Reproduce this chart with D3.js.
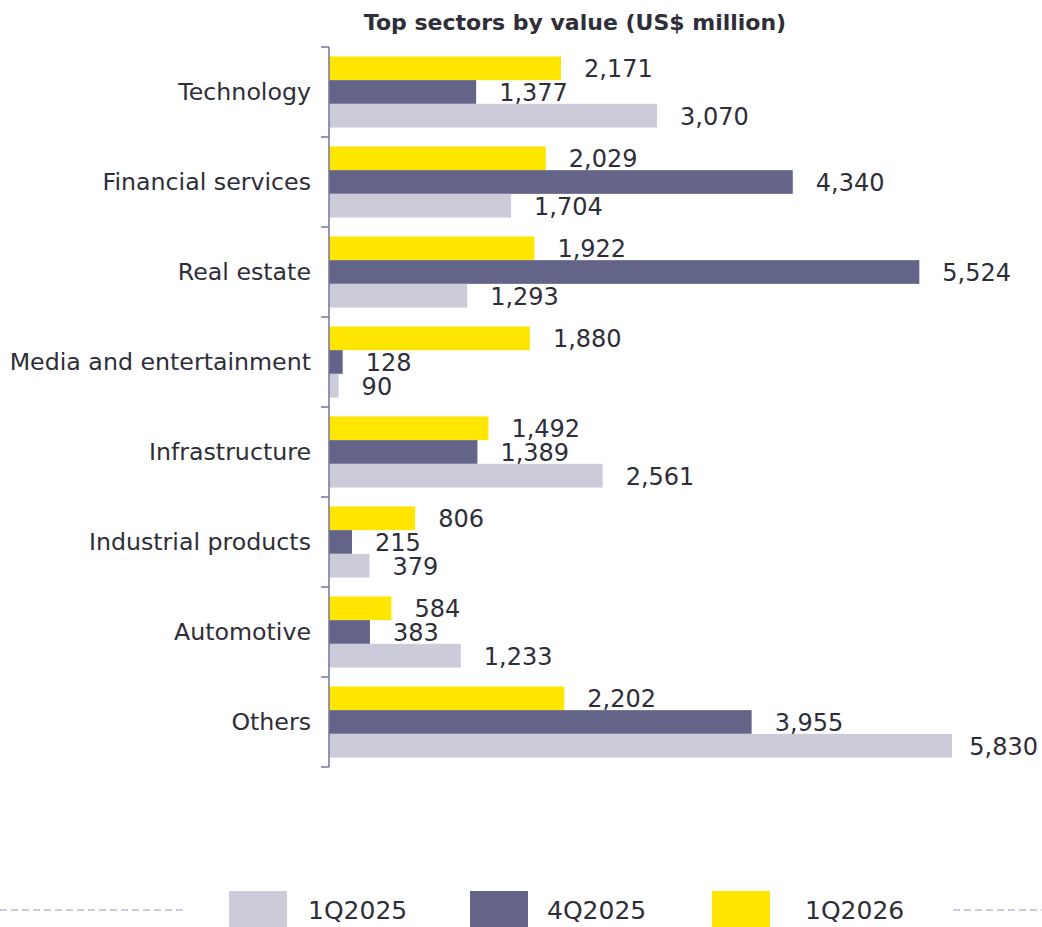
<!DOCTYPE html>
<html>
<head>
<meta charset="utf-8">
<script src="https://cdn.jsdelivr.net/npm/d3@7"></script>
<style>
  html, body { margin: 0; padding: 0; background: #fff; }
  svg { display: block; }
  text { font-family: "DejaVu Sans", "Noto Sans", sans-serif; fill: #2e2e38; }
</style>
</head>
<body>
<svg id="chart" width="1042" height="927"></svg>
<script>
// Sector deal values, US$ million
const sectors = ["Technology", "Financial services", "Real estate", "Media and entertainment",
                 "Infrastructure", "Industrial products", "Automotive", "Others"];
const q1_2025 = [3070, 1704, 1293, 90, 2561, 379, 1233, 5830];
const q4_2025 = [1377, 4340, 5524, 128, 1389, 215, 383, 3955];
const q1_2026 = [2171, 2029, 1922, 1880, 1492, 806, 584, 2202];
const seriesNames = ["1Q2025", "4Q2025", "1Q2026"];
const seriesColors = ["#cbcbda", "#646489", "#ffe600"];
const title = "Top sectors by value (US$ million)";

const W = 1042;
const svg = d3.select("#chart");
const margin = { left: 329, top: 47 };
const plotW = 623, plotH = 720;

const x = d3.scaleLinear().domain([0, d3.max(q1_2025.concat(q4_2025, q1_2026))]).range([0, plotW]);
const y = d3.scaleBand().domain(sectors).range([0, plotH]).paddingInner(0.21).paddingOuter(0.105);
// bar order inside each group: 1Q2026 on top, then 4Q2025, then 1Q2025
const order = ["1Q2026", "4Q2025", "1Q2025"];
const ySub = d3.scaleBand().domain(order).range([0, y.bandwidth()]);

const rows = sectors.map((s, i) => ({
  sector: s,
  values: [
    { key: "1Q2026", v: q1_2026[i], color: seriesColors[2] },
    { key: "4Q2025", v: q4_2025[i], color: seriesColors[1] },
    { key: "1Q2025", v: q1_2025[i], color: seriesColors[0] }
  ]
}));

const g = svg.append("g").attr("transform", `translate(${margin.left},${margin.top})`);

// title
svg.append("text")
  .attr("x", 575).attr("y", 30)
  .attr("text-anchor", "middle")
  .style("font-size", "22px").style("font-weight", "bold")
  .text(title);

const groups = g.selectAll("g.group").data(rows).join("g")
  .attr("class", "group")
  .attr("transform", d => `translate(0,${y(d.sector)})`);

groups.selectAll("rect").data(d => d.values).join("rect")
  .attr("x", 0)
  .attr("y", d => ySub(d.key))
  .attr("width", d => x(d.v))
  .attr("height", ySub.bandwidth())
  .attr("fill", d => d.color);

// value labels sit right of the bar; the longest ones are pulled back inside the canvas
groups.selectAll("text.val").data(d => d.values).join("text")
  .attr("class", "val")
  .attr("y", d => ySub(d.key) + ySub.bandwidth() - 3)
  .style("font-size", "24px")
  .text(d => d3.format(",")(d.v))
  .attr("x", function (d) {
    const w = this.getComputedTextLength();
    return Math.min(x(d.v) + 23, W - 4 - margin.left - w);
  });

// category axis with ticks at band boundaries
const axisColor = "#747494";
g.append("line")
  .attr("x1", 0).attr("x2", 0).attr("y1", 0).attr("y2", plotH)
  .attr("stroke", axisColor).attr("stroke-width", 1.5);
const step = plotH / sectors.length;
g.selectAll("line.tick").data(d3.range(sectors.length + 1)).join("line")
  .attr("class", "tick")
  .attr("x1", -8).attr("x2", 0)
  .attr("y1", d => d * step).attr("y2", d => d * step)
  .attr("stroke", axisColor).attr("stroke-width", 1.5);

g.selectAll("text.cat").data(sectors).join("text")
  .attr("class", "cat")
  .attr("x", -18)
  .attr("y", d => y(d) + y.bandwidth() / 2 + 8)
  .attr("text-anchor", "end")
  .style("font-size", "23.7px")
  .text(d => d);

// legend
const legendY = 891;
const legendItems = [
  { name: seriesNames[0], color: seriesColors[0], x: 229, tx: 308 },
  { name: seriesNames[1], color: seriesColors[1], x: 470, tx: 547 },
  { name: seriesNames[2], color: seriesColors[2], x: 712, tx: 805 }
];
const lg = svg.append("g");
lg.selectAll("rect").data(legendItems).join("rect")
  .attr("x", d => d.x).attr("y", legendY)
  .attr("width", 58).attr("height", 36)
  .attr("fill", d => d.color);
lg.selectAll("text").data(legendItems).join("text")
  .attr("x", d => d.tx).attr("y", legendY + 28)
  .style("font-size", "25px")
  .text(d => d.name);

// dashed rules either side of the legend
[[0, 187], [953, 1042]].forEach(([a, b]) => {
  svg.append("line")
    .attr("x1", a).attr("x2", b).attr("y1", 910).attr("y2", 910)
    .attr("stroke", "#c9c9d9").attr("stroke-width", 2)
    .attr("stroke-dasharray", "7,4");
});
</script>
</body>
</html>
